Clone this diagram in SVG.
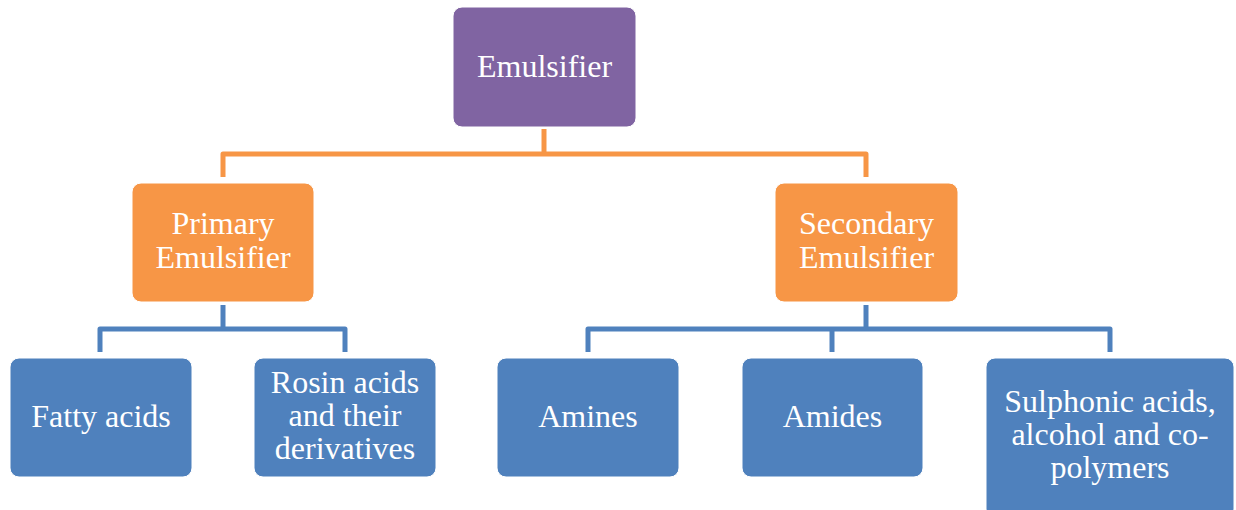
<svg xmlns="http://www.w3.org/2000/svg" width="1236" height="510" viewBox="0 0 1236 510">
<style>
.box{stroke:#ffffff;stroke-width:1;}
.p{fill:#8064A2;}
.o{fill:#F79646;}
.b{fill:#4F81BD;}
.t{font-family:"Liberation Serif","Times New Roman",serif;font-size:32px;fill:#ffffff;text-anchor:middle;}
.co{fill:none;stroke:#F79646;stroke-width:5;stroke-linejoin:round;}
.cb{fill:none;stroke:#4F81BD;stroke-width:5;stroke-linejoin:round;}
</style>
<rect width="1236" height="510" fill="#ffffff"/>
<g id="connectors">
<path class="co" d="M544,129 V154"/>
<path class="co" d="M223,177 V154 H866 V177"/>
<path class="cb" d="M223,305 V329"/>
<path class="cb" d="M100,352 V329 H345 V352"/>
<path class="cb" d="M866,305 V329"/>
<path class="cb" d="M588,352 V329 H1110 V352"/>
<path class="cb" d="M832,329 V352"/>
</g>
<g id="emulsifier">
<rect class="box p" x="453" y="7" width="183" height="120" rx="9"/>
<text class="t" x="544.5" y="77">Emulsifier</text>
</g>
<g id="primary">
<rect class="box o" x="132" y="183" width="182" height="119" rx="9"/>
<text class="t"><tspan x="223" y="234">Primary</tspan><tspan x="223" y="268">Emulsifier</tspan></text>
</g>
<g id="secondary">
<rect class="box o" x="775" y="183" width="183" height="119" rx="9"/>
<text class="t"><tspan x="866.5" y="234">Secondary</tspan><tspan x="866.5" y="268">Emulsifier</tspan></text>
</g>
<g id="fatty">
<rect class="box b" x="10" y="358" width="182" height="119" rx="9"/>
<text class="t" x="101" y="427">Fatty acids</text>
</g>
<g id="rosin">
<rect class="box b" x="254" y="358" width="182" height="119" rx="9"/>
<text class="t"><tspan x="345" y="393">Rosin acids</tspan><tspan x="345" y="426">and their</tspan><tspan x="345" y="459">derivatives</tspan></text>
</g>
<g id="amines">
<rect class="box b" x="497" y="358" width="182" height="119" rx="9"/>
<text class="t" x="588" y="427">Amines</text>
</g>
<g id="amides">
<rect class="box b" x="742" y="358" width="181" height="119" rx="9"/>
<text class="t" x="832.5" y="427">Amides</text>
</g>
<g id="sulphonic">
<rect class="box b" x="986" y="358" width="248" height="160" rx="9"/>
<text class="t"><tspan x="1110" y="412">Sulphonic acids,</tspan><tspan x="1110" y="445">alcohol and co-</tspan><tspan x="1110" y="478">polymers</tspan></text>
</g>
</svg>
